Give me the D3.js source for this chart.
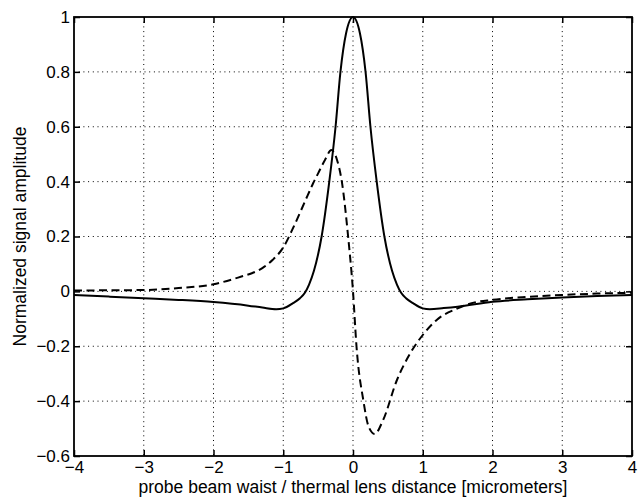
<!DOCTYPE html>
<html>
<head>
<meta charset="utf-8">
<script src="https://cdn.jsdelivr.net/npm/d3@7"></script>
<style>
  body { margin: 0; background: #fff; }
  text { font-family: "Liberation Sans", Arial, sans-serif; fill: #000; }
</style>
</head>
<body>
<div id="chart"></div>
<script>
// Values
var xTicks = [-4, -3, -2, -1, 0, 1, 2, 3, 4];
var yTicks = [-0.6, -0.4, -0.2, 0, 0.2, 0.4, 0.6, 0.8, 1];

// solid curve
var solidX = [-4, -3.5, -3, -2.5, -2, -1.5, -1.3, -1.1, -1, -0.86, -0.76, -0.69, -0.63, -0.56, -0.45, -0.34, -0.25, -0.18, -0.1, 0,
              0.1, 0.18, 0.25, 0.34, 0.45, 0.56, 0.63, 0.69, 0.76, 0.86, 1, 1.1, 1.3, 1.5, 2, 2.5, 3, 3.5, 4];
var solidY = [-0.013, -0.019, -0.025, -0.031, -0.039, -0.052, -0.059, -0.065, -0.062, -0.043, -0.025, -0.005, 0.025, 0.075, 0.2, 0.4, 0.6, 0.8, 0.94, 1,
              0.94, 0.8, 0.6, 0.4, 0.2, 0.075, 0.025, -0.005, -0.025, -0.043, -0.062, -0.065, -0.061, -0.056, -0.038, -0.029, -0.022, -0.017, -0.013];

// dashed curve
var dashX = [-4, -3.5, -3, -2.5, -2, -1.6, -1.45, -1.3, -1.15, -1, -0.85, -0.65, -0.57, -0.5, -0.4, -0.31, -0.23, -0.16, -0.07, 0,
             0.05, 0.15, 0.22, 0.31, 0.43, 0.63, 0.82, 1, 1.2, 1.5, 1.7, 2, 2.5, 3, 3.5, 4];
var dashY = [0.003, 0.004, 0.005, 0.012, 0.026, 0.054, 0.066, 0.085, 0.115, 0.16, 0.236, 0.35, 0.395, 0.43, 0.48, 0.515, 0.48, 0.4, 0.2, 0,
             -0.2, -0.4, -0.49, -0.52, -0.47, -0.323, -0.226, -0.159, -0.104, -0.062, -0.043, -0.031, -0.02, -0.013, -0.008, -0.005];

var width = 640, height = 499;
var margin = { top: 17, right: 8, bottom: 43, left: 74 };

var svg = d3.select("#chart").append("svg")
    .attr("width", width)
    .attr("height", height);

var x = d3.scaleLinear().domain([-4, 4]).range([margin.left, width - margin.right]);
var y = d3.scaleLinear().domain([-0.6, 1]).range([height - margin.bottom, margin.top]);

var fmt = d3.format(".1~f");

// dotted grid
var grid = svg.append("g")
    .attr("stroke", "#000")
    .attr("stroke-width", 1)
    .attr("stroke-dasharray", "1,3.7");

grid.selectAll(".vg")
    .data(xTicks.slice(1, -1))
    .enter().append("line")
    .attr("x1", d => x(d)).attr("x2", d => x(d))
    .attr("y1", y(1)).attr("y2", y(-0.6));

grid.selectAll(".hg")
    .data(yTicks.slice(1, -1))
    .enter().append("line")
    .attr("x1", x(-4)).attr("x2", x(4))
    .attr("y1", d => y(d)).attr("y2", d => y(d));

// axes, ticks pointing inward on all four sides
function styleAxis(g) {
    g.select(".domain").remove();
    g.selectAll(".tick line").attr("stroke", "#000").attr("stroke-width", 1.5);
    g.selectAll("text").style("font-size", "17px");
}

svg.append("g")
    .attr("transform", `translate(0,${y(-0.6)})`)
    .call(d3.axisBottom(x).tickValues(xTicks).tickFormat(fmt).tickSizeInner(-6).tickPadding(5))
    .call(styleAxis);

svg.append("g")
    .attr("transform", `translate(0,${y(1)})`)
    .call(d3.axisTop(x).tickValues(xTicks).tickFormat("").tickSizeInner(-6))
    .call(styleAxis);

svg.append("g")
    .attr("transform", `translate(${x(-4)},0)`)
    .call(d3.axisLeft(y).tickValues(yTicks).tickFormat(fmt).tickSizeInner(-6).tickPadding(4))
    .call(styleAxis);

svg.append("g")
    .attr("transform", `translate(${x(4)},0)`)
    .call(d3.axisRight(y).tickValues(yTicks).tickFormat("").tickSizeInner(-6))
    .call(styleAxis);

// box
svg.append("rect")
    .attr("x", x(-4)).attr("y", y(1))
    .attr("width", x(4) - x(-4))
    .attr("height", y(-0.6) - y(1))
    .attr("fill", "none")
    .attr("stroke", "#000")
    .attr("stroke-width", 1.8);

// curves
var line = d3.line()
    .x(d => x(d[0]))
    .y(d => y(d[1]))
    .curve(d3.curveMonotoneX);

svg.append("path")
    .datum(d3.zip(solidX, solidY))
    .attr("d", line)
    .attr("fill", "none")
    .attr("stroke", "#000")
    .attr("stroke-width", 2);

svg.append("path")
    .datum(d3.zip(dashX, dashY))
    .attr("d", line)
    .attr("fill", "none")
    .attr("stroke", "#000")
    .attr("stroke-width", 2)
    .attr("stroke-dasharray", "8,4.5");

// axis labels
svg.append("text")
    .attr("x", (x(-4) + x(4)) / 2)
    .attr("y", 493)
    .attr("text-anchor", "middle")
    .style("font-size", "17.5px")
    .text("probe beam waist / thermal lens distance [micrometers]");

svg.append("text")
    .attr("transform", `translate(26,${(y(1) + y(-0.6)) / 2}) rotate(-90)`)
    .attr("text-anchor", "middle")
    .style("font-size", "17.5px")
    .text("Normalized signal amplitude");
</script>
</body>
</html>
